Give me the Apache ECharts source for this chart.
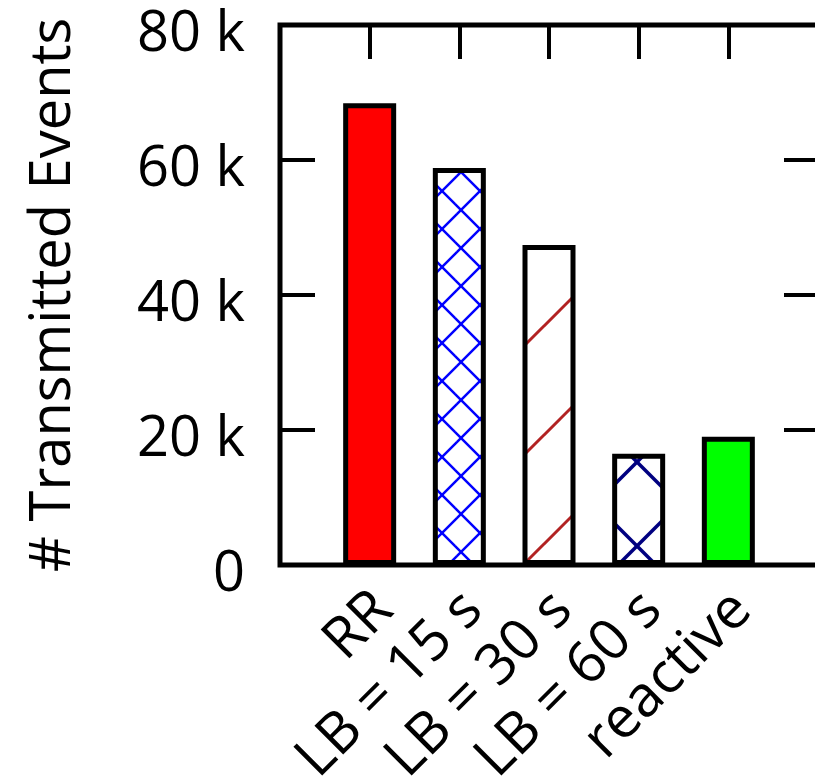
<!DOCTYPE html>
<html>
<head>
<meta charset="utf-8">
<script src="https://cdn.jsdelivr.net/npm/echarts@6/dist/echarts.min.js"></script>
<style>
  html, body { margin: 0; padding: 0; background: #fff; overflow: hidden; }
  #chart { width: 815px; height: 778px; }
</style>
</head>
<body>
<div id="chart"></div>
<script>
// Transmitted events per scheduling strategy
const categories = ['RR', 'LB = 15 s', 'LB = 30 s', 'LB = 60 s', 'reactive'];
const transmittedEvents = [68400, 58800, 47400, 16500, 19000];
const yTicks = [0, 20000, 40000, 60000, 80000];

const FONT = '"Open Sans", sans-serif';

// Hatch tile: white background with 45° lines.
// up: lines with x + y = const, down: lines with y - x = const (page coordinates, mod tile size)
function hatchTile(size, color, width, upOffset, downOffset) {
  const c = document.createElement('canvas');
  c.width = size; c.height = size;
  const g = c.getContext('2d');
  g.fillStyle = '#fff';
  g.fillRect(0, 0, size, size);
  g.strokeStyle = color;
  g.lineWidth = width;
  g.lineCap = 'butt';
  const mod = (a) => ((a % size) + size) % size;
  for (let k = -3; k <= 3; k++) {
    if (upOffset !== null) {
      const c0 = mod(upOffset) + k * size;
      g.beginPath();
      g.moveTo(-2 * size, c0 + 2 * size);
      g.lineTo(3 * size, c0 - 3 * size);
      g.stroke();
    }
    if (downOffset !== null) {
      const d0 = mod(downOffset) + k * size;
      g.beginPath();
      g.moveTo(-2 * size, d0 - 2 * size);
      g.lineTo(3 * size, d0 + 3 * size);
      g.stroke();
    }
  }
  return { image: c, repeat: 'repeat' };
}

const fills = [
  '#ff0000',
  hatchTile(38, '#0000ff', 2.5, 671, -251),
  hatchTile(109, '#b22222', 3, 870, null),
  hatchTile(84, '#000080', 3.5, 1183, -91),
  '#00ff00'
];

const barData = categories.map((name, i) => ({
  value: [i, transmittedEvents[i]],
  itemStyle: { color: fills[i], borderColor: '#000', borderWidth: 5 }
}));

const tickStyle = { color: '#000', width: 4 };

const chart = echarts.init(document.getElementById('chart'), null, { renderer: 'canvas' });
chart.setOption({
  animation: false,
  backgroundColor: '#fff',
  grid: {
    left: 280, top: 25, width: 538, height: 540,
    outerBoundsMode: 'none', containLabel: false,
    show: true, borderColor: '#000', borderWidth: 5, backgroundColor: 'transparent'
  },
  xAxis: [
    {
      type: 'value', position: 'bottom', min: -1, max: 5, interval: 1,
      axisLine: { show: false, onZero: false }, axisTick: { show: false }, splitLine: { show: false },
      axisLabel: {
        rotate: 45, margin: 22, color: '#000',
        showMinLabel: true, showMaxLabel: true,
        formatter: (v) => (v >= 0 && v < categories.length ? '{c|' + categories[v] + '}' : ''),
        rich: { c: { fontSize: 57, fontFamily: FONT, color: '#000', padding: [40, 0, 0, 0] } }
      }
    },
    {
      type: 'value', position: 'top', min: -1, max: 5, interval: 1,
      axisLine: { show: false, onZero: false }, splitLine: { show: false }, axisLabel: { show: false },
      axisTick: { show: true, inside: true, length: 34, lineStyle: tickStyle }
    }
  ],
  yAxis: [
    {
      type: 'value', position: 'left', min: yTicks[0], max: yTicks[yTicks.length - 1], interval: 20000,
      name: '# Transmitted Events', nameLocation: 'middle', nameGap: 198,
      nameTextStyle: { fontSize: 56, fontFamily: FONT, color: '#000' },
      axisLine: { show: false, onZero: false }, splitLine: { show: false },
      axisTick: { show: true, inside: true, length: 35, lineStyle: tickStyle },
      axisLabel: {
        margin: 35, color: '#000',
        formatter: (v) => '{t|' + (v === 0 ? '0' : (v / 1000) + ' k') + '}',
        rich: { t: { fontSize: 56, fontFamily: FONT, color: '#000', padding: [20, 0, 0, 0] } }
      }
    },
    {
      type: 'value', position: 'right', min: yTicks[0], max: yTicks[yTicks.length - 1], interval: 20000,
      axisLine: { show: false, onZero: false }, splitLine: { show: false }, axisLabel: { show: false },
      axisTick: { show: true, inside: true, length: 34, lineStyle: tickStyle }
    }
  ],
  series: [
    {
      type: 'bar', xAxisIndex: 0, yAxisIndex: 0,
      barWidth: 53,
      data: barData
    }
  ]
});
</script>
</body>
</html>
